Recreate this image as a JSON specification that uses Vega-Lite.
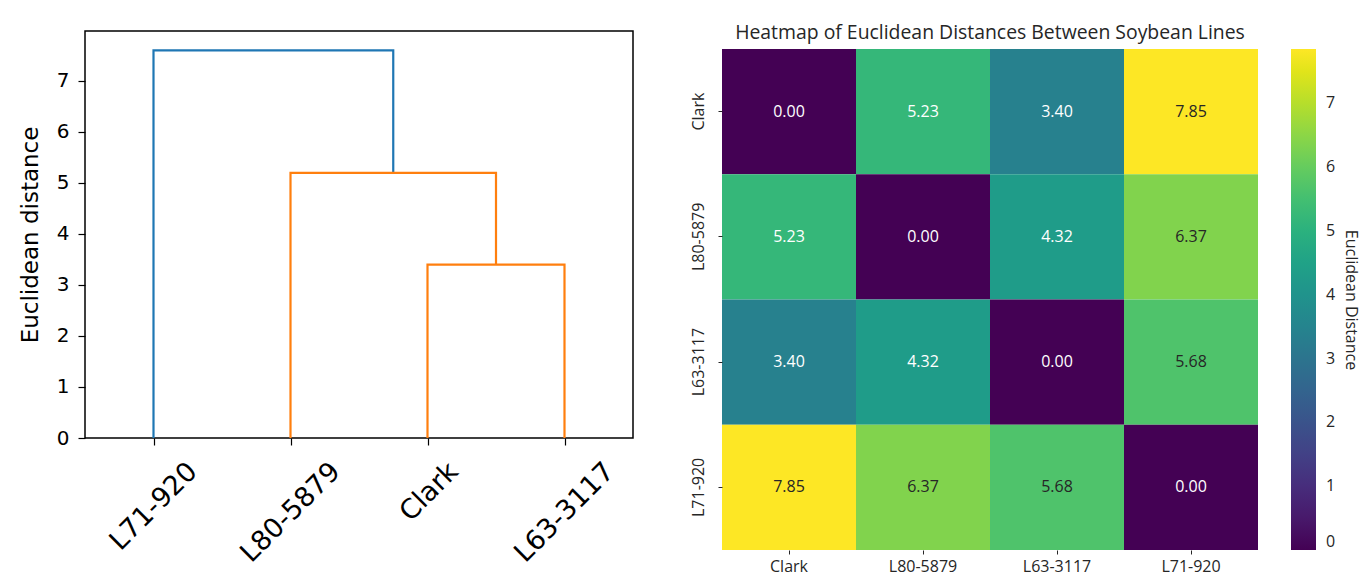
{
  "$schema": "https://vega.github.io/schema/vega-lite/v6.json",
  "background": "white",
  "padding": {"left": 18, "top": 22, "right": 5, "bottom": 5},
  "spacing": 56,
  "config": {"font": "DejaVu Sans"},
  "hconcat": [
    {
      "width": 548,
      "height": 407,
      "view": {"stroke": "black", "strokeWidth": 1.5},
      "data": {"values": [
        {"link": "A", "cluster": "C0", "step": 1, "x": 5, "y": 0},
        {"link": "A", "cluster": "C0", "step": 2, "x": 5, "y": 7.6},
        {"link": "A", "cluster": "C0", "step": 3, "x": 22.5, "y": 7.6},
        {"link": "A", "cluster": "C0", "step": 4, "x": 22.5, "y": 5.2},
        {"link": "B", "cluster": "C1", "step": 1, "x": 15, "y": 0},
        {"link": "B", "cluster": "C1", "step": 2, "x": 15, "y": 5.2},
        {"link": "B", "cluster": "C1", "step": 3, "x": 30, "y": 5.2},
        {"link": "B", "cluster": "C1", "step": 4, "x": 30, "y": 3.4},
        {"link": "C", "cluster": "C1", "step": 1, "x": 25, "y": 0},
        {"link": "C", "cluster": "C1", "step": 2, "x": 25, "y": 3.4},
        {"link": "C", "cluster": "C1", "step": 3, "x": 35, "y": 3.4},
        {"link": "C", "cluster": "C1", "step": 4, "x": 35, "y": 0}
      ]},
      "mark": {"type": "line", "strokeWidth": 2.2},
      "encoding": {
        "x": {
          "field": "x", "type": "quantitative",
          "scale": {"domain": [0, 40], "nice": false, "zero": false},
          "axis": {
            "values": [5, 15, 25, 35],
            "labelExpr": "datum.value == 5 ? 'L71-920' : datum.value == 15 ? 'L80-5879' : datum.value == 25 ? 'Clark' : 'L63-3117'",
            "labelAngle": -45, "labelAlign": "right", "labelBaseline": "middle",
            "labelFontSize": 27, "labelColor": "black",
            "labelOffset": {"condition": [{"test": "datum.value == 25", "value": 26}, {"test": "datum.value == 5", "value": 39}], "value": 45},
            "labelPadding": 22, "tickSize": 7, "tickWidth": 1.2, "tickColor": "black",
            "domain": false, "grid": false, "title": null,
            "labelOverlap": false, "labelFlush": false, "labelBound": false
          }
        },
        "y": {
          "field": "y", "type": "quantitative",
          "scale": {"domain": [0, 7.98], "nice": false},
          "axis": {
            "values": [0, 1, 2, 3, 4, 5, 6, 7],
            "title": "Euclidean distance", "titleFontSize": 23, "titleFontWeight": "normal", "titleColor": "black", "titlePadding": 14,
            "labelFontSize": 20, "labelColor": "black", "labelPadding": 9,
            "tickSize": 7, "tickWidth": 1.2, "tickColor": "black",
            "domain": false, "grid": false
          }
        },
        "detail": {"field": "link"},
        "order": {"field": "step", "type": "quantitative"},
        "color": {"field": "cluster", "type": "nominal", "scale": {"domain": ["C0", "C1"], "range": ["#1f77b4", "#ff7f0e"]}, "legend": null}
      }
    },
    {
      "width": 536,
      "height": 519,
      "view": {"stroke": null},
      "title": {"text": "Heatmap of Euclidean Distances Between Soybean Lines", "font": "Open Sans", "fontSize": 19.4, "fontWeight": "normal", "color": "#262626", "offset": -12},
      "data": {"values": [
        {"row": "Clark", "col": "Clark", "d": 0},
        {"row": "Clark", "col": "L80-5879", "d": 5.23},
        {"row": "Clark", "col": "L63-3117", "d": 3.40},
        {"row": "Clark", "col": "L71-920", "d": 7.85},
        {"row": "L80-5879", "col": "Clark", "d": 5.23},
        {"row": "L80-5879", "col": "L80-5879", "d": 0},
        {"row": "L80-5879", "col": "L63-3117", "d": 4.32},
        {"row": "L80-5879", "col": "L71-920", "d": 6.37},
        {"row": "L63-3117", "col": "Clark", "d": 3.40},
        {"row": "L63-3117", "col": "L80-5879", "d": 4.32},
        {"row": "L63-3117", "col": "L63-3117", "d": 0},
        {"row": "L63-3117", "col": "L71-920", "d": 5.68},
        {"row": "L71-920", "col": "Clark", "d": 7.85},
        {"row": "L71-920", "col": "L80-5879", "d": 6.37},
        {"row": "L71-920", "col": "L63-3117", "d": 5.68},
        {"row": "L71-920", "col": "L71-920", "d": 0}
      ]},
      "encoding": {
        "x": {
          "field": "col", "type": "nominal",
          "sort": ["Clark", "L80-5879", "L63-3117", "L71-920"],
          "scale": {"paddingInner": 0, "paddingOuter": 0},
          "axis": {"title": null, "labelAngle": 0, "labelFont": "Open Sans", "labelFontSize": 16, "labelColor": "#262626", "tickSize": 4, "tickColor": "#262626", "domain": false, "labelPadding": 4}
        },
        "y": {
          "field": "row", "type": "nominal",
          "sort": ["Clark", "L80-5879", "L63-3117", "L71-920"],
          "scale": {"paddingInner": 0, "paddingOuter": 0, "range": [18, 519]},
          "axis": {"title": null, "labelAngle": 270, "labelAlign": "center", "labelBaseline": "bottom", "labelFont": "Open Sans", "labelFontSize": 16, "labelColor": "#262626", "tickSize": 4, "tickColor": "#262626", "domain": false, "labelPadding": 12}
        }
      },
      "layer": [
        {
          "mark": {"type": "rect"},
          "encoding": {
            "color": {
              "field": "d", "type": "quantitative",
              "scale": {"scheme": "viridis", "domain": [0, 7.85]},
              "legend": {
                "orient": "none", "legendX": 569, "legendY": 18, "direction": "vertical",
                "gradientLength": 501, "gradientThickness": 25, "gradientStrokeWidth": 0,
                "values": [0, 1, 2, 3, 4, 5, 6, 7],
                "title": "Euclidean Distance", "titleOrient": "right", "titleAngle": 270, "titleAnchor": "middle",
                "titleFont": "Open Sans", "titleFontSize": 16, "titleFontWeight": "normal", "titleColor": "#262626", "titlePadding": 8,
                "labelFont": "Open Sans", "labelFontSize": 16, "labelColor": "#262626", "labelOffset": 10, "labelBaseline": "middle"
              }
            }
          }
        },
        {
          "mark": {"type": "text", "font": "Open Sans", "fontSize": 16},
          "encoding": {
            "text": {"field": "d", "type": "quantitative", "format": ".2f"},
            "color": {"condition": {"test": "datum.d > 5.5", "value": "#262626"}, "value": "white"}
          }
        }
      ]
    }
  ]
}
